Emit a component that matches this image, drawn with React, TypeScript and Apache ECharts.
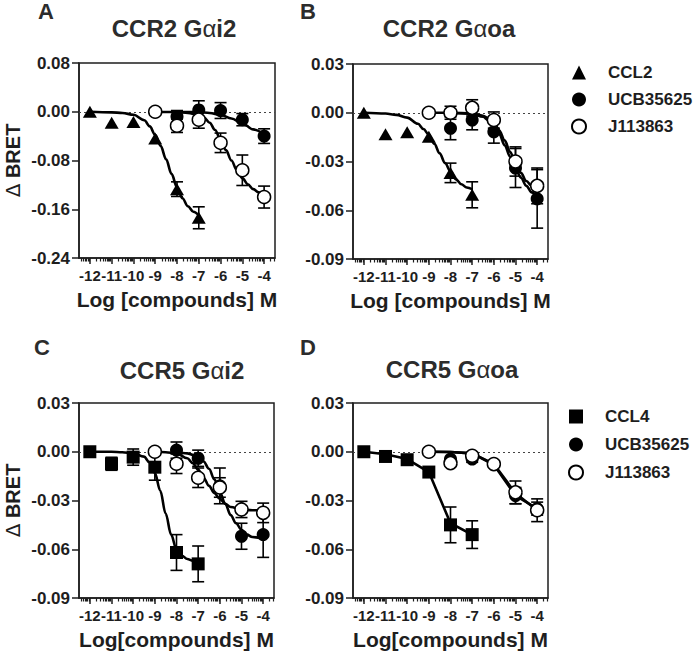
import React, { useEffect, useRef } from "react";
import * as echarts from "echarts";

// ---------- Data ----------
const doseChemokine = [-12, -11, -10, -9, -8, -7];
const doseUCB = [-8, -7, -6, -5, -4];
const doseJ = [-9, -8, -7, -6, -5, -4];
const majorTicks = [-12, -11, -10, -9, -8, -7, -6, -5, -4];

// Panel A: CCR2 Gαi2
const A_CCL2_mean = [0, -0.018, -0.017, -0.044, -0.127, -0.174];
const A_CCL2_sem = [0, 0, 0, 0, 0.012, 0.018];
const A_UCB_mean = [-0.008, 0.003, 0.002, -0.013, -0.04];
const A_UCB_sem = [0.01, 0.015, 0.013, 0.01, 0.012];
const A_J_mean = [0, -0.023, -0.013, -0.051, -0.096, -0.14];
const A_J_sem = [0, 0.011, 0.014, 0.016, 0.025, 0.018];
const A_CCL2_fit = [[-12, 0], [-11, -0.001], [-10.5, -0.002], [-10, -0.005], [-9.5, -0.014], [-9.25, -0.024], [-9, -0.038], [-8.75, -0.056], [-8.5, -0.078], [-8.25, -0.102], [-8, -0.124], [-7.75, -0.142], [-7.5, -0.155], [-7.25, -0.164], [-7, -0.17]];
const A_UCB_fit = [[-8, 0], [-7, -0.0005], [-6.5, -0.002], [-6, -0.005], [-5.5, -0.011], [-5, -0.019], [-4.5, -0.029], [-4, -0.037]];
const A_J_fit = [[-9, 0], [-8, -0.0005], [-7.5, -0.002], [-7, -0.005], [-6.75, -0.01], [-6.5, -0.018], [-6.25, -0.03], [-6, -0.046], [-5.75, -0.063], [-5.5, -0.08], [-5.25, -0.096], [-5, -0.109], [-4.75, -0.119], [-4.5, -0.127], [-4.25, -0.132], [-4, -0.136]];

// Panel B: CCR2 Gαoa
const B_CCL2_mean = [0, -0.0133, -0.012, -0.0147, -0.037, -0.0505];
const B_CCL2_sem = [0, 0, 0, 0, 0.006, 0.008];
const B_UCB_mean = [-0.0096, -0.0045, -0.0117, -0.034, -0.053];
const B_UCB_sem = [0.007, 0.006, 0.007, 0.012, 0.018];
const B_J_mean = [0, 0, 0.003, -0.0045, -0.03, -0.045];
const B_J_sem = [0, 0.004, 0.005, 0.005, 0.009, 0.011];
const B_CCL2_fit = [[-12, 0], [-11, -0.0005], [-10.5, -0.0013], [-10, -0.003], [-9.5, -0.0068], [-9.25, -0.01], [-9, -0.0135], [-8.75, -0.019], [-8.5, -0.025], [-8.25, -0.031], [-8, -0.036], [-7.75, -0.041], [-7.5, -0.044], [-7.25, -0.046], [-7, -0.047]];
const B_UCB_fit = [[-8, 0], [-7, -0.0006], [-6.5, -0.0025], [-6.25, -0.0045], [-6, -0.0075], [-5.75, -0.013], [-5.5, -0.02], [-5.25, -0.027], [-5, -0.034], [-4.75, -0.04], [-4.5, -0.045], [-4.25, -0.049], [-4, -0.052]];
const B_J_fit = [[-9, 0], [-8, 0], [-7, -0.0004], [-6.5, -0.0018], [-6.25, -0.0035], [-6, -0.006], [-5.75, -0.011], [-5.5, -0.017], [-5.25, -0.024], [-5, -0.031], [-4.75, -0.037], [-4.5, -0.042], [-4.25, -0.045], [-4, -0.047]];

// Panel C: CCR5 Gαi2
const C_CCL4_mean = [0, -0.0074, -0.0033, -0.0095, -0.062, -0.069];
const C_CCL4_sem = [0, 0.004, 0.005, 0.008, 0.011, 0.011];
const C_UCB_mean = [0.001, -0.004, -0.021, -0.052, -0.051];
const C_UCB_sem = [0.005, 0.005, 0.011, 0.008, 0.014];
const C_J_mean = [0, -0.0074, -0.016, -0.022, -0.0355, -0.0376];
const C_J_sem = [0, 0.006, 0.006, 0.006, 0.005, 0.006];
const C_CCL4_fit = [[-12, 0], [-11, 0], [-10.5, -0.0003], [-10, -0.001], [-9.5, -0.003], [-9.25, -0.0065], [-9, -0.013], [-8.75, -0.024], [-8.5, -0.038], [-8.25, -0.051], [-8, -0.06], [-7.75, -0.064], [-7.5, -0.066], [-7.25, -0.067], [-7, -0.0675]];
const C_UCB_fit = [[-8, 0], [-7.5, -0.001], [-7, -0.003], [-6.75, -0.006], [-6.5, -0.0105], [-6.25, -0.017], [-6, -0.025], [-5.75, -0.032], [-5.5, -0.039], [-5.25, -0.044], [-5, -0.048], [-4.75, -0.051], [-4.5, -0.0525], [-4, -0.0535]];
const C_J_fit = [[-9, 0], [-8.5, -0.0003], [-8, -0.001], [-7.5, -0.004], [-7.25, -0.007], [-7, -0.011], [-6.75, -0.016], [-6.5, -0.021], [-6.25, -0.0255], [-6, -0.029], [-5.75, -0.032], [-5.5, -0.034], [-5, -0.0355], [-4.5, -0.036], [-4, -0.036]];

// Panel D: CCR5 Gαoa
const D_CCL4_mean = [0, -0.0029, -0.0049, -0.0125, -0.045, -0.051];
const D_CCL4_sem = [0, 0, 0, 0, 0.011, 0.0085];
const D_UCB_mean = [-0.0045, -0.0045, -0.0076, -0.027, -0.035];
const D_UCB_sem = [0, 0.002, 0, 0.005, 0.004];
const D_J_mean = [0, -0.007, -0.0025, -0.0076, -0.025, -0.036];
const D_J_sem = [0, 0, 0, 0, 0.007, 0.007];
const D_CCL4_fit = [[-12, 0], [-11, -0.0015], [-10, -0.0045], [-9, -0.0125], [-8, -0.044], [-7, -0.051]];
const D_UCB_fit = [[-9, 0], [-8, -0.0002], [-7, -0.001], [-6, -0.008], [-5, -0.027], [-4, -0.035]];
const D_J_fit = [[-9, 0], [-8, -0.0002], [-7, -0.001], [-6, -0.0075], [-5, -0.0255], [-4, -0.036]];

// ---------- Layout ----------
const FONT = "'Liberation Sans', Arial, Helvetica, sans-serif";
const INK = "#1e1e1e";

const panels = [
  { letter: "A", title: "CCR2 G{a|α}i2", chem: "CCL2", sym: "triangle", symSize: [14, 12], cMean: A_CCL2_mean, cSem: A_CCL2_sem, uMean: A_UCB_mean, uSem: A_UCB_sem, jMean: A_J_mean, jSem: A_J_sem, fits: [A_CCL2_fit, A_UCB_fit, A_J_fit], smooth: true, yMin: -0.24, yMax: 0.08, yInt: 0.08, xName: "Log [compounds] M", yName: true, grid: { left: 79, top: 63, width: 196, height: 195 }, titleX: 174, titleY: 28, letterX: 46, letterY: 11 },
  { letter: "B", title: "CCR2 G{a|α}oa", chem: "CCL2", sym: "triangle", symSize: [14, 12], cMean: B_CCL2_mean, cSem: B_CCL2_sem, uMean: B_UCB_mean, uSem: B_UCB_sem, jMean: B_J_mean, jSem: B_J_sem, fits: [B_CCL2_fit, B_UCB_fit, B_J_fit], smooth: true, yMin: -0.09, yMax: 0.03, yInt: 0.03, xName: "Log [compounds] M", yName: false, grid: { left: 353, top: 64, width: 195, height: 195 }, titleX: 449, titleY: 28, letterX: 308, letterY: 11 },
  { letter: "C", title: "CCR5 G{a|α}i2", chem: "CCL4", sym: "rect", symSize: 13, cMean: C_CCL4_mean, cSem: C_CCL4_sem, uMean: C_UCB_mean, uSem: C_UCB_sem, jMean: C_J_mean, jSem: C_J_sem, fits: [C_CCL4_fit, C_UCB_fit, C_J_fit], smooth: true, yMin: -0.09, yMax: 0.03, yInt: 0.03, xName: "Log[compounds] M", yName: true, grid: { left: 79, top: 403, width: 195, height: 195 }, titleX: 182, titleY: 370, letterX: 42, letterY: 347 },
  { letter: "D", title: "CCR5 G{a|α}oa", chem: "CCL4", sym: "rect", symSize: 13, cMean: D_CCL4_mean, cSem: D_CCL4_sem, uMean: D_UCB_mean, uSem: D_UCB_sem, jMean: D_J_mean, jSem: D_J_sem, fits: [D_CCL4_fit, D_UCB_fit, D_J_fit], smooth: false, yMin: -0.09, yMax: 0.03, yInt: 0.03, xName: "Log[compounds] M", yName: false, grid: { left: 353, top: 403, width: 195, height: 195 }, titleX: 452, titleY: 369, letterX: 308, letterY: 347 },
];

const minorTicks: number[] = [];
for (let d = -13; d <= -4; d++) {
  for (let k = 2; k <= 9; k++) {
    const v = d + Math.log10(k);
    if (v >= -12.5 && v <= -3.5) minorTicks.push(v);
  }
}

const pairs = (xs: number[], ys: number[]) => xs.map((x, i) => [x, ys[i]]);
const errRows = (xs: number[], ys: number[], es: number[]) =>
  xs.map((x, i) => [x, ys[i], es[i]]).filter((r) => r[2] > 0);

function errorBarSeries(xi: number, yi: number, rows: number[][]) {
  return {
    type: "custom",
    xAxisIndex: xi,
    yAxisIndex: yi,
    z: 3,
    silent: true,
    encode: { x: 0, y: 1 },
    data: rows,
    renderItem: (_params: any, api: any) => {
      const x = api.value(0);
      const m = api.value(1);
      const e = api.value(2);
      const p1 = api.coord([x, m + e]);
      const p2 = api.coord([x, m - e]);
      const hw = 6;
      const st = { stroke: "#000", lineWidth: 1.6 };
      return {
        type: "group",
        children: [
          { type: "line", shape: { x1: p1[0], y1: p1[1], x2: p2[0], y2: p2[1] }, style: st },
          { type: "line", shape: { x1: p1[0] - hw, y1: p1[1], x2: p1[0] + hw, y2: p1[1] }, style: st },
          { type: "line", shape: { x1: p2[0] - hw, y1: p2[1], x2: p2[0] + hw, y2: p2[1] }, style: st },
        ],
      };
    },
  };
}

function buildOption() {
  const grid: any[] = [];
  const xAxis: any[] = [];
  const yAxis: any[] = [];
  const series: any[] = [];
  const graphic: any[] = [];
  const axisLineStyle = { color: INK, width: 1.5 };

  panels.forEach((p, i) => {
    grid.push({ ...p.grid, show: true, borderColor: INK, borderWidth: 1.5, backgroundColor: "transparent", containLabel: false });
    const xi = i * 2;
    xAxis.push({
      gridIndex: i,
      type: "value",
      position: "bottom",
      min: -12.5,
      max: -3.5,
      splitLine: { show: false },
      axisLine: { onZero: false, lineStyle: axisLineStyle },
      axisTick: { customValues: majorTicks, length: 6, lineStyle: { color: INK, width: 1.5 } },
      axisLabel: {
        customValues: majorTicks,
        formatter: (v: number) => String(Math.round(v)),
        fontSize: 15,
        fontWeight: "bold",
        color: INK,
        fontFamily: FONT,
        margin: 10,
        showMinLabel: true,
        showMaxLabel: true,
        hideOverlap: false,
      },
      name: p.xName,
      nameLocation: "middle",
      nameGap: 31,
      nameTextStyle: { fontSize: 21, fontWeight: "bold", color: INK, fontFamily: FONT },
    });
    xAxis.push({
      gridIndex: i,
      type: "value",
      position: "bottom",
      min: -12.5,
      max: -3.5,
      splitLine: { show: false },
      axisLine: { show: false, onZero: false },
      axisTick: { customValues: minorTicks, length: 3.5, lineStyle: { color: INK, width: 1.2 } },
      axisLabel: { show: false },
    });
    yAxis.push({
      gridIndex: i,
      type: "value",
      min: p.yMin,
      max: p.yMax,
      interval: p.yInt,
      splitLine: { show: false },
      axisLine: { show: true, onZero: false, lineStyle: axisLineStyle },
      axisTick: { show: true, length: 7, lineStyle: { color: INK, width: 1.5 } },
      axisLabel: {
        formatter: (v: number) => (Math.abs(v) < 1e-9 ? "0.00" : v.toFixed(2)),
        fontSize: 17,
        fontWeight: "bold",
        color: INK,
        fontFamily: FONT,
        margin: 9,
      },
      name: p.yName ? "{d|Δ} BRET" : "",
      nameLocation: "middle",
      nameGap: 56,
      nameRotate: 90,
      nameTextStyle: {
        fontSize: 20,
        fontWeight: "bold",
        color: INK,
        fontFamily: FONT,
        rich: { d: { fontSize: 20, fontWeight: "normal", color: INK, fontFamily: "'DejaVu Sans', sans-serif" } },
      },
    });

    // fitted curves
    p.fits.forEach((fit, k) => {
      const s: any = {
        type: "line",
        name: `${p.letter}-fit-${k}`,
        xAxisIndex: xi,
        yAxisIndex: i,
        data: fit,
        showSymbol: false,
        symbol: "none",
        smooth: p.smooth ? 0.35 : false,
        smoothMonotone: "x",
        lineStyle: { color: "#000", width: 2.6 },
        z: 2,
        silent: true,
      };
      if (k === 0) {
        s.markLine = {
          silent: true,
          symbol: ["none", "none"],
          label: { show: false },
          lineStyle: { type: [2, 3], color: "#444", width: 1 },
          data: [{ yAxis: 0 }],
          z: 1,
        };
      }
      series.push(s);
    });

    // error bars
    series.push(errorBarSeries(xi, i, errRows(doseChemokine, p.cMean, p.cSem)));
    series.push(errorBarSeries(xi, i, errRows(doseUCB, p.uMean, p.uSem)));
    series.push(errorBarSeries(xi, i, errRows(doseJ, p.jMean, p.jSem)));

    // markers
    series.push({
      type: "scatter",
      name: p.chem,
      xAxisIndex: xi,
      yAxisIndex: i,
      data: pairs(doseChemokine, p.cMean),
      symbol: p.sym,
      symbolSize: p.symSize,
      itemStyle: { color: "#000", opacity: 1 },
      z: 4,
    });
    series.push({
      type: "scatter",
      name: "UCB35625",
      xAxisIndex: xi,
      yAxisIndex: i,
      data: pairs(doseUCB, p.uMean),
      symbol: "circle",
      symbolSize: 13,
      itemStyle: { color: "#000", opacity: 1 },
      z: 5,
    });
    series.push({
      type: "scatter",
      name: "J113863",
      xAxisIndex: xi,
      yAxisIndex: i,
      data: pairs(doseJ, p.jMean),
      symbol: "circle",
      symbolSize: 13,
      itemStyle: { color: "#fff", borderColor: "#000", borderWidth: 1.5, opacity: 1 },
      z: 6,
    });

    graphic.push({
      type: "text",
      x: p.titleX,
      y: p.titleY,
      style: {
        text: p.title,
        align: "center",
        verticalAlign: "middle",
        fill: "#2c2c2c",
        font: `bold 24px ${FONT}`,
        rich: { a: { fontSize: 24, fontWeight: "normal", fill: "#2c2c2c", fontFamily: FONT } },
      },
    });
    graphic.push({
      type: "text",
      x: p.letterX,
      y: p.letterY,
      style: {
        text: p.letter,
        align: "center",
        verticalAlign: "middle",
        fill: "#2c2c2c",
        font: `bold 22px ${FONT}`,
      },
    });
  });

  const legendCommon = {
    orient: "vertical",
    itemWidth: 14,
    itemHeight: 14,
    padding: 0,
    selectedMode: false,
    textStyle: { fontSize: 17, fontWeight: "bold", color: INK, fontFamily: FONT, padding: [0, 0, 0, 17] },
  };

  return {
    animation: false,
    textStyle: { fontFamily: FONT },
    grid,
    xAxis,
    yAxis,
    series,
    graphic,
    legend: [
      { ...legendCommon, left: 571, top: 64, itemGap: 10, data: ["CCL2", "UCB35625", "J113863"] },
      { ...legendCommon, left: 568, top: 408, itemGap: 11, data: ["CCL4", "UCB35625", "J113863"] },
    ],
  };
}

export default function App() {
  const ref = useRef<HTMLDivElement>(null);
  useEffect(() => {
    if (!ref.current) return;
    const chart = echarts.init(ref.current, undefined, { renderer: "svg" });
    chart.setOption(buildOption() as any);
    return () => chart.dispose();
  }, []);
  return (
    <div
      ref={ref}
      style={{ position: "fixed", left: 0, top: 0, width: 693, height: 656, background: "#fff" }}
    />
  );
}
